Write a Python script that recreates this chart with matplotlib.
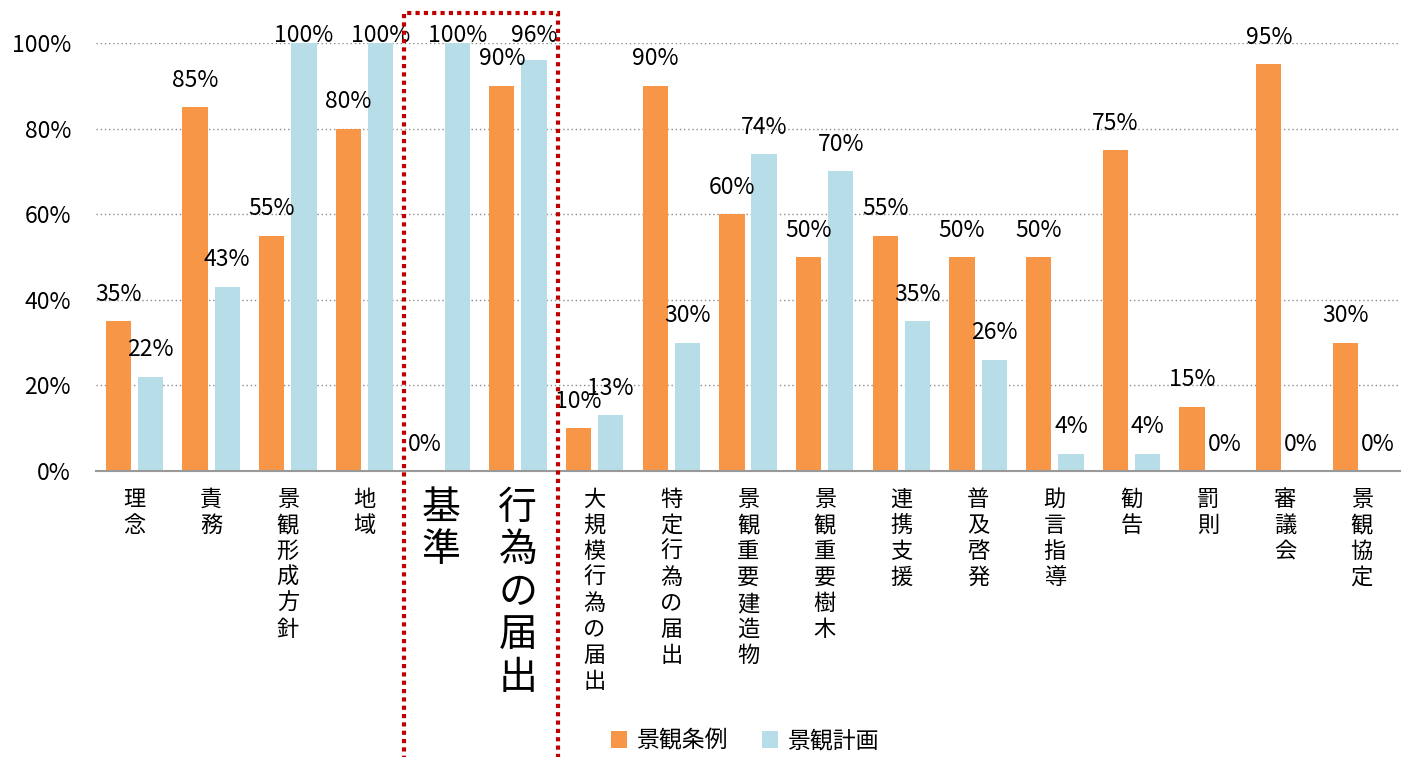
import matplotlib
matplotlib.use("Agg")
import numpy as np
import matplotlib.pyplot as plt
from matplotlib.patches import Rectangle

plt.rcParams["font.family"] = ["Noto Sans CJK JP", "DejaVu Sans"]

categories = ["理念", "責務", "景観形成方針", "地域", "基準", "行為の届出",
              "大規模行為の届出", "特定行為の届出", "景観重要建造物", "景観重要樹木",
              "連携支援", "普及啓発", "助言指導", "勧告", "罰則", "審議会", "景観協定"]
jourei = [35, 85, 55, 80, 0, 90, 10, 90, 60, 50, 55, 50, 50, 75, 15, 95, 30]
keikaku = [22, 43, 100, 100, 100, 96, 13, 30, 74, 70, 35, 26, 4, 4, 0, 0, 0]
series_names = ["景観条例", "景観計画"]
highlight = ["基準", "行為の届出"]

c_orange = "#F79646"
c_blue = "#B7DDE8"

W, H = 1402, 757
fig = plt.figure(figsize=(W / 100, H / 100), dpi=100)
ax = fig.add_axes([96 / W, 1 - 471 / H, (1400 - 96) / W, (471 - 43) / H])

x = np.arange(len(categories))
bw = 0.33
off = 0.21
b1 = ax.bar(x - off, jourei, bw, color=c_orange, label=series_names[0])
b2 = ax.bar(x + off, keikaku, bw, color=c_blue, label=series_names[1])

for xs, vals in ((x - off, jourei), (x + off, keikaku)):
    for xi, v in zip(xs, vals):
        ax.text(xi, min(v + 6.3, 101.8), "{}%".format(v), ha="center", va="center",
                fontsize=16.5, clip_on=False)

ax.set_xlim(-0.5, len(categories) - 0.5)
ax.set_ylim(0, 100)
ax.set_yticks(np.arange(0, 101, 20))
ax.set_yticklabels(["{}%".format(v) for v in range(0, 101, 20)], fontsize=16.5)
ax.yaxis.grid(True, color="#8c8c8c", linestyle=(0, (1, 2)), linewidth=1)
ax.set_axisbelow(True)
for s in ("top", "right", "left"):
    ax.spines[s].set_visible(False)
ax.spines["bottom"].set_color("#999999")
ax.spines["bottom"].set_linewidth(1.5)
ax.tick_params(axis="y", length=0, pad=18)
ax.tick_params(axis="x", length=0, pad=12)

ax.set_xticks(x)
ax.set_xticklabels(["\n".join(c) for c in categories], va="top")
for lab, c in zip(ax.get_xticklabels(), categories):
    if c in highlight:
        lab.set_fontsize(28)
        lab.set_linespacing(1.08)
    else:
        lab.set_fontsize(16)
        lab.set_linespacing(1.17)

# highlight box
rect = Rectangle((404 / W, -0.02), (558 - 404) / W, 1.02 - 13 / H,
                 transform=fig.transFigure, fill=False, edgecolor="#C00000",
                 linewidth=3, linestyle=(0, (1, 1)))
fig.add_artist(rect)

fig.legend(handles=[b1, b2], loc="center", bbox_to_anchor=(745 / W, 1 - 741 / H),
           ncol=2, frameon=False, fontsize=16.5, handlelength=0.7, handleheight=0.7,
           handletextpad=0.4, columnspacing=1.5)

fig.savefig("out.png", dpi=100)
